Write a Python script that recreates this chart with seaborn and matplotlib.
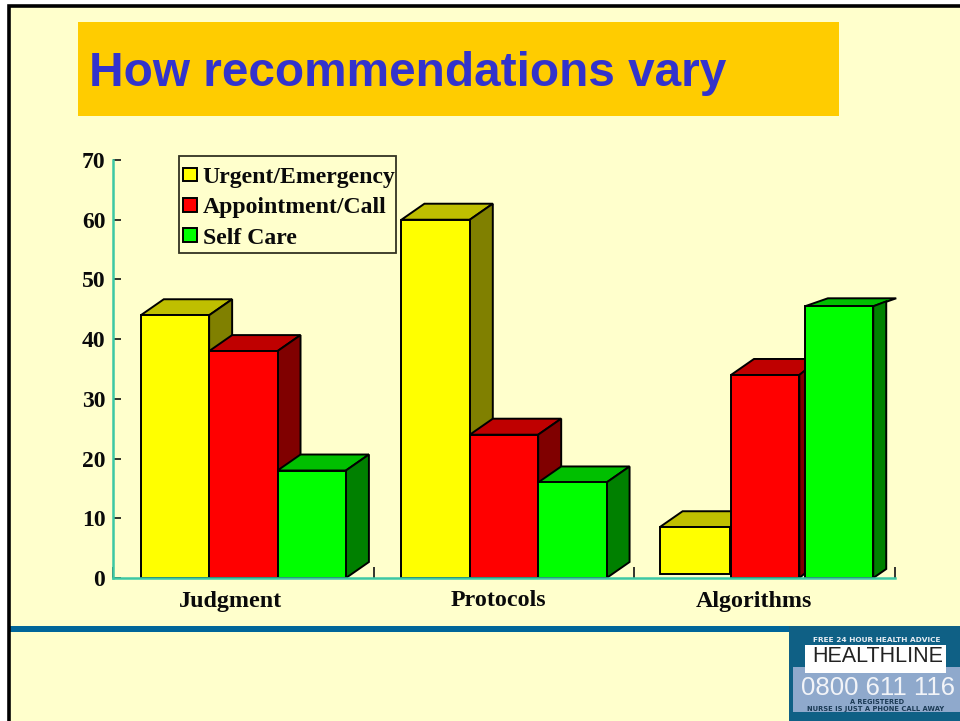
from matplotlib import pyplot as plt
from matplotlib.patches import Polygon, Rectangle
import seaborn as sns
import pandas as pd

groups = ['Judgment', 'Protocols', 'Algorithms']
series = ['Urgent/Emergency', 'Appointment/Call', 'Self Care']
urgent = [44, 60, 8.5]
appointment = [38, 24, 34]
self_care = [18, 16, 45.5]

front = ['#FFFF00', '#FF0000', '#00FF00']
top = ['#BFBF00', '#BF0000', '#00BF00']
side = ['#808000', '#800000', '#008000']
cream = '#FFFFCC'
W, H = 960, 721


def px_rect(x0, y0, x1, y1):
    # 像素坐标（左上角为原点）转 figure 坐标
    return [x0 / W, 1 - y1 / H, (x1 - x0) / W, (y1 - y0) / H]


df = pd.DataFrame({
    'group': groups * 3,
    'series': [s for s in series for _ in groups],
    'value': urgent + appointment + self_care,
})

sns.set_theme(style='white')
plt.rcParams['font.family'] = ['Liberation Serif', 'DejaVu Serif']
fig = plt.figure(figsize=(W / 100, H / 100), dpi=100, facecolor='white')

# 背景、边框、标题块
bg = fig.add_axes([0, 0, 1, 1], zorder=0)
bg.set_xlim(0, W)
bg.set_ylim(H, 0)
bg.axis('off')
bg.add_patch(Rectangle((8, 5), W - 8, H - 5, fc=cream, ec='none'))
bg.plot([8.5, 8.5, W], [H, 5.5, 5.5], color='black', lw=2.6, solid_joinstyle='miter')
bg.add_patch(Rectangle((78, 22), 761, 94, fc='#FFCC00', ec='none'))
bg.text(89, 73, 'How recommendations vary', family='Liberation Sans', weight='bold',
        fontsize=34.4, color='#3333CC', va='center', ha='left')
bg.add_patch(Rectangle((10, 626), W - 10, 6, fc='#006699', ec='none'))

# HEALTHLINE 标志
bg.add_patch(Rectangle((789, 626), W - 789, 95, fc='#0F6085', ec='none'))
bg.add_patch(Rectangle((793, 667), W - 793, 45, fc='#8FA9CC', ec='none'))
bg.add_patch(Rectangle((805, 645), 141, 28, fc='white', ec='none'))
logo = 'Liberation Sans'
bg.text(877, 640, 'FREE 24 HOUR HEALTH ADVICE', family='DejaVu Sans', weight='bold', fontsize=5.3,
        color='#E8EEF4', ha='center', va='center')
bg.text(878, 656, 'HEALTHLINE', family=logo, fontsize=15.5, color='#222222', ha='center', va='center')
bg.text(878, 688, '0800 611 116', family=logo, fontsize=18.5, color='#F2F4F8', ha='center', va='center')
bg.text(877, 702, 'A REGISTERED', family='DejaVu Sans', weight='bold', fontsize=4.8, color='#1B3A55',
        ha='center', va='center')
bg.text(876, 709, 'NURSE IS JUST A PHONE CALL AWAY', family='DejaVu Sans', weight='bold', fontsize=4.9,
        color='#1B3A55', ha='center', va='center')

# 图例的框单独画，文字比框还宽
bg.add_patch(Rectangle((179, 156), 217, 97, fc=cream, ec='#333322', lw=1.3))

ax = fig.add_axes(px_rect(113, 160, 895, 578), zorder=1)
ax.patch.set_alpha(0)
sns.barplot(data=df, x='group', y='value', hue='series', order=groups, hue_order=series,
            palette=front, width=0.787, gap=0, saturation=1, dodge=True, errorbar=None,
            edgecolor='black', linewidth=1.4, ax=ax)
ax.set_xlim(-0.5, 2.5)
ax.set_ylim(0, 70)
ax.set_xlabel('')
ax.set_ylabel('')
ax.set_yticks(range(0, 80, 10))

sx = 3 / 782   # 一个像素对应的 x 数据量
sy = 70 / 418  # 一个像素对应的 y 数据量

# 类别标签在原图里没有对齐到每组中心
label_shift_px = [-13, -6, -11]
ax.set_xticks([i + d * sx for i, d in enumerate(label_shift_px)], labels=groups)

# Algorithms 这一组在原图里被手动挪过
shift_px = {(0, 2): -2.5, (1, 2): 0.5, (2, 2): 6}
widen_px = {(0, 2): 2}
lift_px = {(0, 2): 4}
# (顶面dx, 顶面dy, 侧面dx, 侧面dy, 底部dy)
depth_px = {(1, 2): (23, 16, 6, 5, 5), (2, 2): (23, 8, 13, 5, 9)}

for s, container in enumerate(ax.containers):
    for g, bar in enumerate(container):
        bar.set_x(bar.get_x() + shift_px.get((s, g), 0) * sx)
        bar.set_width(bar.get_width() + widen_px.get((s, g), 0) * sx)
        lift = lift_px.get((s, g), 0) * sy
        top_y = bar.get_y() + bar.get_height()
        bar.set_y(lift)
        bar.set_height(top_y - lift)
        bar.set_zorder(3 + s + 0.5)
        bar.set_joinstyle('miter')
        tdx, tdy, sdx, sdy, bdy = depth_px.get((s, g), (23, 16, 23, 16, 16))
        x0, x1 = bar.get_x(), bar.get_x() + bar.get_width()
        ax.add_patch(Polygon([(x0, top_y), (x0 + tdx * sx, top_y + tdy * sy),
                              (x1 + tdx * sx, top_y + tdy * sy), (x1, top_y)],
                             fc=top[s], ec='black', lw=1.4, zorder=3 + s, clip_on=False))
        ax.add_patch(Polygon([(x1, top_y), (x1 + sdx * sx, top_y + sdy * sy),
                              (x1 + sdx * sx, lift + bdy * sy), (x1, lift)],
                             fc=side[s], ec='black', lw=1.4, zorder=3 + s, clip_on=False))

# 坐标轴
sns.despine(ax=ax)
for name in ['left', 'bottom']:
    ax.spines[name].set_color('#3CC8A4')
    ax.spines[name].set_linewidth(1.8)
    ax.spines[name].set_zorder(8)
ax.tick_params(axis='y', direction='in', length=6, width=1.2, color='#111111', left=True, pad=5.5)
ax.tick_params(axis='x', which='major', length=0, pad=9)
ax.set_xticks([-0.5, 0.5, 1.5, 2.5], minor=True)
ax.tick_params(axis='x', which='minor', direction='in', length=8, width=1.2, color='#111111', bottom=True)
for t in ax.get_yticklabels() + ax.get_xticklabels():
    t.set_fontweight('bold')
    t.set_color('#0A0A0A')
for t in ax.get_yticklabels():
    t.set_fontsize(17)
for t in ax.get_xticklabels():
    t.set_fontsize(17.3)

# 图例
handles, labels = ax.get_legend_handles_labels()
legend = ax.legend(handles, labels, loc='upper left', bbox_to_anchor=(183 / W, 1 - 167 / H),
                   bbox_transform=fig.transFigure, frameon=False,
                   prop={'family': 'Liberation Serif', 'weight': 'bold', 'size': 17.1},
                   borderaxespad=0, borderpad=0, handlelength=0.58, handleheight=0.51,
                   handletextpad=0.25, labelspacing=0.39, labelcolor='#0A0A0A')
legend.set_zorder(10)

fig.savefig('out.png', dpi=100)
